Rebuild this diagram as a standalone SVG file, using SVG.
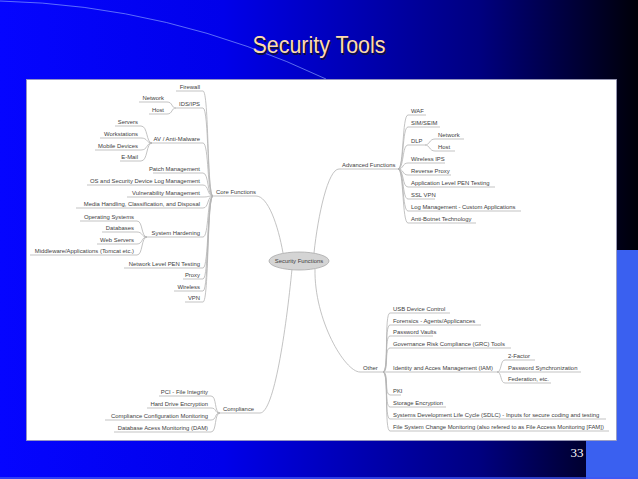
<svg xmlns="http://www.w3.org/2000/svg" width="638" height="479" viewBox="0 0 638 479">
<defs>
<linearGradient id="bg" x1="0" y1="0" x2="1" y2="0">
<stop offset="0" stop-color="#0505ff"/>
<stop offset="0.35" stop-color="#0000ea"/>
<stop offset="0.75" stop-color="#000080"/>
<stop offset="1" stop-color="#000008"/>
</linearGradient>
<style>
.t{font-family:"Liberation Sans",Arial,sans-serif;font-size:5.9px;fill:#404040}
.e{text-anchor:end}
.u{stroke:#b4b4b4;stroke-width:0.8}
.c{fill:none;stroke:#b4b4b4;stroke-width:0.8}
</style>
</defs>
<rect x="0" y="0" width="638" height="479" fill="url(#bg)"/>
<path d="M0,1 Q170,5 326,79" fill="none" stroke="#8fa8ff" stroke-width="0.8" opacity="0.8"/>
<rect x="586" y="250" width="52" height="229" fill="#3a60f0"/>
<rect x="0" y="477" width="638" height="2" fill="#3f55f5" opacity="0.7"/>
<rect x="26.5" y="79.5" width="590" height="361" fill="#ffffff" stroke="#9a9ab8" stroke-width="0.8"/>
<g id="title">
<text x="320.5" y="54.5" text-anchor="middle" font-family="Liberation Sans,Arial,sans-serif" font-size="24" textLength="133" lengthAdjust="spacingAndGlyphs" fill="#101040">Security Tools</text>
<text x="319" y="53" text-anchor="middle" font-family="Liberation Sans,Arial,sans-serif" font-size="24" textLength="133" lengthAdjust="spacingAndGlyphs" fill="#ffdcaa">Security Tools</text>
</g>
<text id="page-number" x="577" y="457" text-anchor="middle" font-family="Liberation Serif,Times New Roman,serif" font-size="13" fill="#ffffff">33</text>

<g id="connectors">
<path class="c" d="M256,196 C268,196 278,225 283,253"/>
<path class="c" d="M339,169 C328,169 318,215 314,253"/>
<path class="c" d="M260,413 C274,413 286,330 292,269"/>
<path class="c" d="M360,372 C345,372 314,320 315,269"/>
<path class="c" d="M213,196 C207,196 209,91 203,91"/>
<path class="c" d="M213,196 C207,196 209,108 203,108"/>
<path class="c" d="M213,196 C207,196 209,143 203,143"/>
<path class="c" d="M213,196 C207,196 209,173 203,173"/>
<path class="c" d="M213,196 C207,196 209,185 203,185"/>
<path class="c" d="M213,196 C207,196 209,197 203,197"/>
<path class="c" d="M213,196 C207,196 209,208 203,208"/>
<path class="c" d="M213,196 C207,196 209,237 203,237"/>
<path class="c" d="M213,196 C207,196 209,268 203,268"/>
<path class="c" d="M213,196 C207,196 209,279 203,279"/>
<path class="c" d="M213,196 C207,196 209,291 203,291"/>
<path class="c" d="M213,196 C207,196 209,302 203,302"/>
<path class="c" d="M176,108 C171,108 173,102 167,102"/>
<path class="c" d="M176,108 C171,108 173,114 167,114"/>
<path class="c" d="M152,143 C146,143 148,126 141,126"/>
<path class="c" d="M152,143 C146,143 148,138 141,138"/>
<path class="c" d="M152,143 C146,143 148,150 141,150"/>
<path class="c" d="M152,143 C146,143 148,161 141,161"/>
<path class="c" d="M147,237 C141,237 143,221 137,221"/>
<path class="c" d="M147,237 C141,237 143,232 137,232"/>
<path class="c" d="M147,237 C141,237 143,244 137,244"/>
<path class="c" d="M147,237 C141,237 143,255 137,255"/>
<path class="c" d="M220,413 C214,413 217,396 211,396"/>
<path class="c" d="M220,413 C214,413 217,408 211,408"/>
<path class="c" d="M220,413 C214,413 217,420 211,420"/>
<path class="c" d="M220,413 C214,413 217,432 211,432"/>
<path class="c" d="M398,169 C404,169 402,115 408,115"/>
<path class="c" d="M398,169 C404,169 402,127 408,127"/>
<path class="c" d="M398,169 C404,169 402,145 408,145"/>
<path class="c" d="M398,169 C404,169 402,163 408,163"/>
<path class="c" d="M398,169 C404,169 402,175 408,175"/>
<path class="c" d="M398,169 C404,169 402,187 408,187"/>
<path class="c" d="M398,169 C404,169 402,199 408,199"/>
<path class="c" d="M398,169 C404,169 402,211 408,211"/>
<path class="c" d="M398,169 C404,169 402,223 408,223"/>
<path class="c" d="M425,145 C430,145 429,139 435,139"/>
<path class="c" d="M425,145 C430,145 429,151 435,151"/>
<path class="c" d="M383,372 C389,372 384,313 390,313"/>
<path class="c" d="M383,372 C389,372 384,325 390,325"/>
<path class="c" d="M383,372 C389,372 384,336 390,336"/>
<path class="c" d="M383,372 C389,372 384,348 390,348"/>
<path class="c" d="M383,372 L390,372"/>
<path class="c" d="M383,372 C389,372 384,395 390,395"/>
<path class="c" d="M383,372 C389,372 384,407 390,407"/>
<path class="c" d="M383,372 C389,372 384,419 390,419"/>
<path class="c" d="M383,372 C389,372 384,431 390,431"/>
<path class="c" d="M497,372 C502,372 500,360 505,360"/>
<path class="c" d="M497,372 L505,372"/>
<path class="c" d="M497,372 C502,372 500,383 505,383"/>
</g>

<g id="security-functions">
<ellipse cx="299" cy="261" rx="30" ry="9" fill="#d4d4d4" stroke="#a8a8a8" stroke-width="0.8"/>
<text class="t" x="299" y="263" text-anchor="middle">Security Functions</text>
</g>

<g id="core-functions"><line class="u" x1="213" y1="196" x2="256" y2="196"/><text class="t" x="216" y="194">Core Functions</text></g>
<g id="firewall"><line class="u" x1="176" y1="91" x2="203" y2="91"/><text class="t e" x="200" y="89">Firewall</text></g>
<g id="ids-ips"><line class="u" x1="176" y1="108" x2="203" y2="108"/><text class="t e" x="200" y="106">IDS/IPS</text></g>
<g id="ids-network"><line class="u" x1="139" y1="102" x2="167" y2="102"/><text class="t e" x="164" y="100">Network</text></g>
<g id="ids-host"><line class="u" x1="149" y1="114" x2="167" y2="114"/><text class="t e" x="164" y="112">Host</text></g>
<g id="av"><line class="u" x1="150" y1="143" x2="203" y2="143"/><text class="t e" x="200" y="141">AV / Anti-Malware</text></g>
<g id="servers"><line class="u" x1="115" y1="126" x2="141" y2="126"/><text class="t e" x="138" y="124">Servers</text></g>
<g id="workstations"><line class="u" x1="100" y1="138" x2="141" y2="138"/><text class="t e" x="138" y="136">Workstations</text></g>
<g id="mobile"><line class="u" x1="95" y1="150" x2="141" y2="150"/><text class="t e" x="138" y="148">Mobile Devices</text></g>
<g id="email"><line class="u" x1="120" y1="161" x2="141" y2="161"/><text class="t e" x="138" y="159">E-Mail</text></g>
<g id="patch"><line class="u" x1="153" y1="173" x2="203" y2="173"/><text class="t e" x="200" y="171">Patch Management</text></g>
<g id="oslog"><line class="u" x1="87" y1="185" x2="203" y2="185"/><text class="t e" x="200" y="183">OS and Security Device Log Management</text></g>
<g id="vuln"><line class="u" x1="127" y1="197" x2="203" y2="197"/><text class="t e" x="200" y="195">Vulnerability Management</text></g>
<g id="media"><line class="u" x1="76" y1="208" x2="203" y2="208"/><text class="t e" x="200" y="206">Media Handling, Classification, and Disposal</text></g>
<g id="hardening"><line class="u" x1="147" y1="237" x2="203" y2="237"/><text class="t e" x="200" y="235">System Hardening</text></g>
<g id="opsys"><line class="u" x1="80" y1="221" x2="137" y2="221"/><text class="t e" x="134" y="219">Operating Systems</text></g>
<g id="databases"><line class="u" x1="102" y1="232" x2="137" y2="232"/><text class="t e" x="134" y="230">Databases</text></g>
<g id="webservers"><line class="u" x1="97" y1="244" x2="137" y2="244"/><text class="t e" x="134" y="242">Web Servers</text></g>
<g id="middleware"><line class="u" x1="30" y1="255" x2="137" y2="255"/><text class="t e" x="134" y="253">Middleware/Applications (Tomcat etc.)</text></g>
<g id="netpen"><line class="u" x1="124" y1="268" x2="203" y2="268"/><text class="t e" x="200" y="266">Network Level PEN Testing</text></g>
<g id="proxy"><line class="u" x1="183" y1="279" x2="203" y2="279"/><text class="t e" x="200" y="277">Proxy</text></g>
<g id="wireless"><line class="u" x1="174" y1="291" x2="203" y2="291"/><text class="t e" x="200" y="289">Wireless</text></g>
<g id="vpn"><line class="u" x1="185" y1="302" x2="203" y2="302"/><text class="t e" x="200" y="300">VPN</text></g>

<g id="compliance"><line class="u" x1="220" y1="413" x2="260" y2="413"/><text class="t" x="223" y="411">Compliance</text></g>
<g id="pci"><line class="u" x1="159" y1="396" x2="211" y2="396"/><text class="t e" x="208" y="394">PCI - File Integrity</text></g>
<g id="hde"><line class="u" x1="147" y1="408" x2="211" y2="408"/><text class="t e" x="208" y="406">Hard Drive Encryption</text></g>
<g id="ccm"><line class="u" x1="105" y1="420" x2="211" y2="420"/><text class="t e" x="208" y="418">Compliance Configuration Monitoring</text></g>
<g id="dam"><line class="u" x1="114" y1="432" x2="211" y2="432"/><text class="t e" x="208" y="430">Database Acess Monitoring (DAM)</text></g>

<g id="advanced"><line class="u" x1="339" y1="169" x2="398" y2="169"/><text class="t" x="342" y="167">Advanced Functions</text></g>
<g id="waf"><line class="u" x1="408" y1="115" x2="426" y2="115"/><text class="t" x="411" y="113">WAF</text></g>
<g id="siem"><line class="u" x1="408" y1="127" x2="440" y2="127"/><text class="t" x="411" y="125">SIM/SEIM</text></g>
<g id="dlp"><line class="u" x1="408" y1="145" x2="425" y2="145"/><text class="t" x="411" y="143">DLP</text></g>
<g id="dlp-network"><line class="u" x1="435" y1="139" x2="464" y2="139"/><text class="t" x="438" y="137">Network</text></g>
<g id="dlp-host"><line class="u" x1="435" y1="151" x2="455" y2="151"/><text class="t" x="438" y="149">Host</text></g>
<g id="wips"><line class="u" x1="408" y1="163" x2="445" y2="163"/><text class="t" x="411" y="161">Wireless IPS</text></g>
<g id="rproxy"><line class="u" x1="408" y1="175" x2="451" y2="175"/><text class="t" x="411" y="173">Reverse Proxy</text></g>
<g id="apppen"><line class="u" x1="408" y1="187" x2="495" y2="187"/><text class="t" x="411" y="185">Application Level PEN Testing</text></g>
<g id="sslvpn"><line class="u" x1="408" y1="199" x2="435" y2="199"/><text class="t" x="411" y="197">SSL VPN</text></g>
<g id="logmgmt"><line class="u" x1="408" y1="211" x2="521" y2="211"/><text class="t" x="411" y="209">Log Management - Custom Applications</text></g>
<g id="botnet"><line class="u" x1="408" y1="223" x2="476" y2="223"/><text class="t" x="411" y="221">Anti-Botnet Technology</text></g>

<g id="other"><line class="u" x1="360" y1="372" x2="383" y2="372"/><text class="t" x="363" y="370">Other</text></g>
<g id="usb"><line class="u" x1="390" y1="313" x2="450" y2="313"/><text class="t" x="393" y="311">USB Device Control</text></g>
<g id="forensics"><line class="u" x1="390" y1="325" x2="481" y2="325"/><text class="t" x="393" y="323">Forensics - Agents/Applicances</text></g>
<g id="vaults"><line class="u" x1="390" y1="336" x2="433" y2="336"/><text class="t" x="393" y="334">Password Vaults</text></g>
<g id="grc"><line class="u" x1="390" y1="348" x2="511" y2="348"/><text class="t" x="393" y="346">Governance Risk Compliance (GRC) Tools</text></g>
<g id="iam"><line class="u" x1="390" y1="372" x2="497" y2="372"/><text class="t" x="393" y="370">Identity and Acces Management (IAM)</text></g>
<g id="twofactor"><line class="u" x1="505" y1="360" x2="535" y2="360"/><text class="t" x="508" y="358">2-Factor</text></g>
<g id="pwsync"><line class="u" x1="505" y1="372" x2="581" y2="372"/><text class="t" x="508" y="370">Password Synchronization</text></g>
<g id="federation"><line class="u" x1="505" y1="383" x2="551" y2="383"/><text class="t" x="508" y="381">Federation, etc.</text></g>
<g id="pki"><line class="u" x1="390" y1="395" x2="401" y2="395"/><text class="t" x="393" y="393">PKI</text></g>
<g id="storage"><line class="u" x1="390" y1="407" x2="446" y2="407"/><text class="t" x="393" y="405">Storage Encryption</text></g>
<g id="sdlc"><line class="u" x1="390" y1="419" x2="606" y2="419"/><text class="t" x="393" y="417">Systems Development Life Cycle (SDLC) - Inputs for secure coding and testing</text></g>
<g id="fscm"><line class="u" x1="390" y1="431" x2="609" y2="431"/><text class="t" x="393" y="429">File System Change Monitoring (also refered to as File Access Monitoring [FAM])</text></g>
</svg>
